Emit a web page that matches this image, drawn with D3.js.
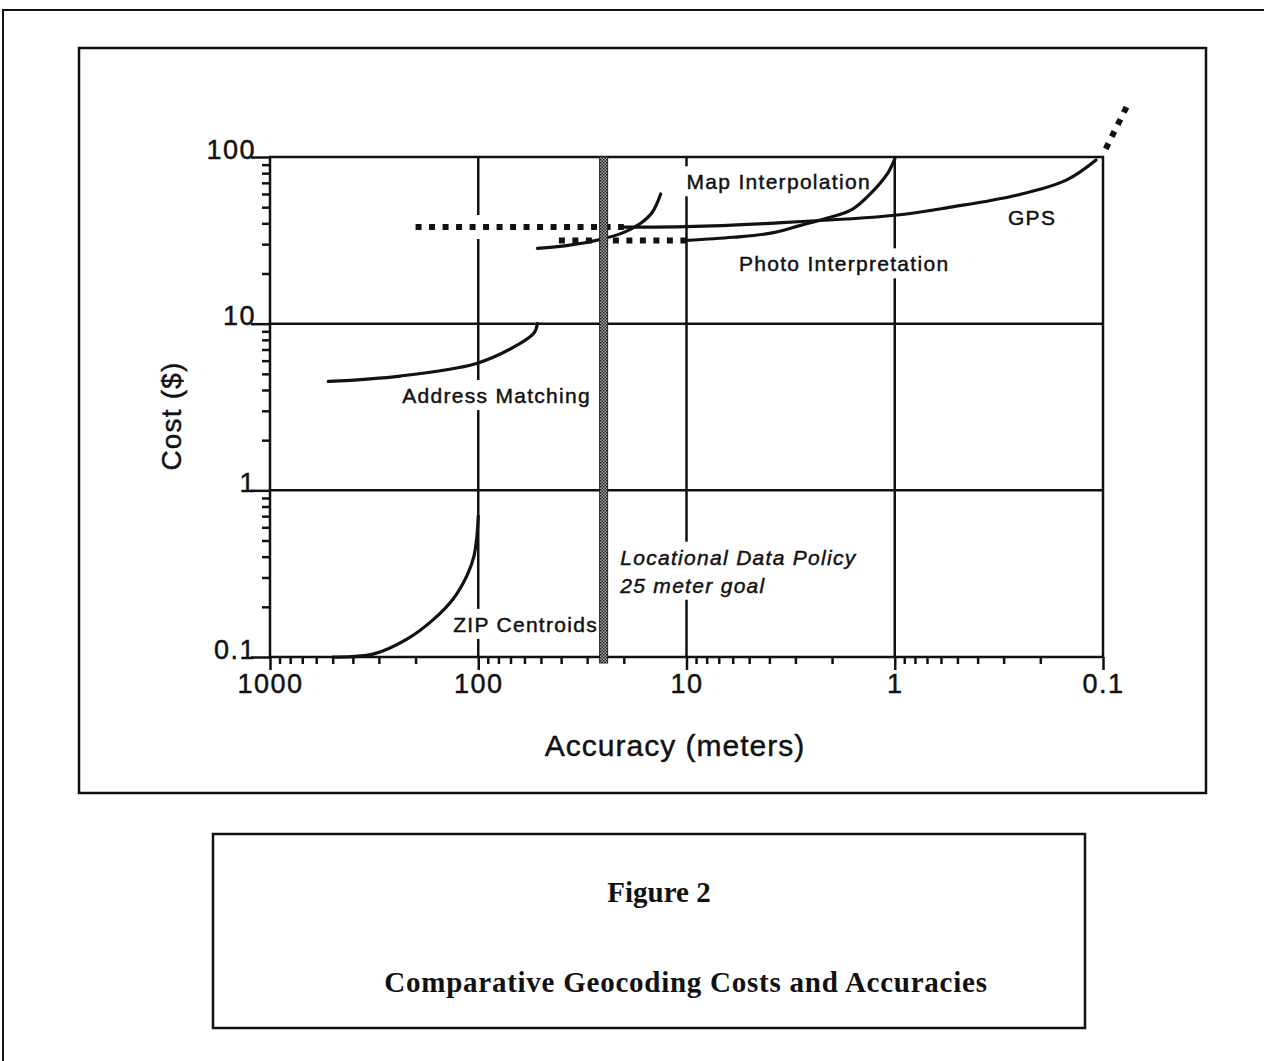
<!DOCTYPE html>
<html>
<head>
<meta charset="utf-8">
<script src="https://cdn.jsdelivr.net/npm/d3@7"></script>
<style>
  html, body { margin: 0; background: #fff; overflow: hidden; }
  svg { display: block; }
  svg text { font-family: "Liberation Sans", Arial, Helvetica, sans-serif; fill: #111; stroke: #111; stroke-width: 0.45px; }
  .caption text { font-family: "Liberation Serif", "Times New Roman", serif; font-weight: bold; stroke: none; }
</style>
</head>
<body>
<svg id="chart" width="1264" height="1061"></svg>
<script>
// ---- data (accuracy in meters, cost in $) ----
const xTicks = [1000, 100, 10, 1, 0.1];
const xTickLabels = ['1000', '100', '10', '1', '0.1'];
const yTicks = [0.1, 1, 10, 100];
const yTickLabels = ['0.1', '1', '10', '100'];
const xGridValues = [100, 10, 1];
const yGridValues = [10, 1];
const policyGoal = 25;

const zipAcc  = [500, 320, 220, 165, 132, 113, 105, 101.5, 100];
const zipCost = [0.1, 0.104, 0.128, 0.167, 0.223, 0.31, 0.40, 0.53, 0.7];

const addrAcc  = [525, 237, 103, 68, 54, 52];
const addrCost = [4.5, 4.85, 5.75, 7.2, 8.8, 10];

const mapAcc  = [52, 37, 26, 20, 16.6, 14.6, 13.3];
const mapCost = [28.3, 29.5, 32, 35.3, 40, 46.6, 60];

const gpsDotAcc  = [200, 20];
const gpsDotCost = [38, 38];
const gpsAcc  = [20, 10, 4, 1, 0.54, 0.26, 0.15, 0.108];
const gpsCost = [38, 38.2, 40, 44.7, 50, 59, 72.7, 96];
const gpsExtAcc  = [0.097, 0.077];
const gpsExtCost = [112, 200];

const photoDotAcc  = [41, 10];
const photoDotCost = [31.6, 31.6];
const photoAcc  = [10, 6, 4, 2.83, 2.1, 1.6, 1.3, 1.08, 1.0];
const photoCost = [31.6, 33.0, 34.8, 38.9, 43, 48.5, 60.7, 80, 97];

// labels anchored in data coordinates
const labels = [
  { text: 'Map Interpolation', acc: 10, cost: 64 },
  { text: 'Photo Interpretation', acc: 5.6, cost: 20.6 },
  { text: 'GPS', acc: 0.286, cost: 38.9 },
  { text: 'Address Matching', acc: 232, cost: 3.34 },
  { text: 'ZIP Centroids', acc: 132, cost: 0.1415 }
];
const policyLines = ['Locational Data Policy', '25 meter goal'];
const policyAnchor = { acc: 20.8, cost: [0.358, 0.243] };

// ---- setup ----
const svg = d3.select('#chart');
const x = d3.scaleLog().domain([1000, 0.1]).range([270, 1103]);
const y = d3.scaleLog().domain([0.1, 100]).range([657, 157]);

// page frames (outer one runs off the page to the right and bottom)
svg.append('path').attr('d', 'M3,1061 L3,10 L1264,10')
  .attr('fill', 'none').attr('stroke', '#111').attr('stroke-width', 2);
svg.append('rect').attr('x', 79).attr('y', 48).attr('width', 1127).attr('height', 745)
  .attr('fill', 'none').attr('stroke', '#111').attr('stroke-width', 2.5);

const defs = svg.append('defs');
const pat = defs.append('pattern').attr('id', 'hatch').attr('patternUnits', 'userSpaceOnUse')
  .attr('width', 3).attr('height', 3);
pat.append('rect').attr('width', 3).attr('height', 3).attr('fill', '#b8b8b8');
pat.append('rect').attr('width', 1.5).attr('height', 1.5).attr('fill', '#111');
pat.append('rect').attr('x', 1.5).attr('y', 1.5).attr('width', 1.5).attr('height', 1.5).attr('fill', '#111');

const gridG = svg.append('g');
const bgG = svg.append('g');
const curveG = svg.append('g');
const textG = svg.append('g');
const topG = svg.append('g');

// ---- grid and frame ----
gridG.selectAll('line.vg').data(xGridValues).join('line')
  .attr('x1', d => x(d)).attr('x2', d => x(d))
  .attr('y1', y(100)).attr('y2', y(0.1))
  .attr('stroke', '#111').attr('stroke-width', 2.5);
gridG.selectAll('line.hg').data(yGridValues).join('line')
  .attr('class', 'hg')
  .attr('x1', x(1000)).attr('x2', x(0.1))
  .attr('y1', d => y(d)).attr('y2', d => y(d))
  .attr('stroke', '#111').attr('stroke-width', 2.5);
gridG.append('rect')
  .attr('x', x(1000)).attr('y', y(100))
  .attr('width', x(0.1) - x(1000)).attr('height', y(0.1) - y(100))
  .attr('fill', 'none').attr('stroke', '#111').attr('stroke-width', 2.5);

// ---- axes ----
const minorX = x.ticks().filter(d => !xTicks.some(t => Math.abs(t - d) < 1e-9));
const minorY = y.ticks().filter(d => !yTicks.some(t => Math.abs(t - d) < 1e-9));

function styleAxis(g) {
  g.select('.domain').remove();
  g.selectAll('line').attr('stroke', '#111').attr('stroke-width', 2.5);
  g.selectAll('text').attr('fill', '#111')
    .style('font-family', '"Liberation Sans", Arial, sans-serif')
    .style('font-size', '27px').style('letter-spacing', '1.5px');
}

gridG.append('g').attr('transform', `translate(0,${y(0.1)})`)
  .call(d3.axisBottom(x).tickValues(minorX).tickSize(7).tickFormat(''))
  .call(styleAxis);
gridG.append('g').attr('transform', `translate(0,${y(0.1)})`)
  .call(d3.axisBottom(x).tickValues(xTicks).tickSize(13).tickPadding(4)
    .tickFormat((d, i) => xTickLabels[i]))
  .call(styleAxis);

gridG.append('g').attr('transform', `translate(${x(1000)},0)`)
  .call(d3.axisLeft(y).tickValues(minorY).tickSize(8).tickFormat(''))
  .call(styleAxis);
const yAx = gridG.append('g').attr('transform', `translate(${x(1000)},0)`)
  .call(d3.axisLeft(y).tickValues(yTicks).tickSize(19)
    .tickFormat((d, i) => yTickLabels[i]))
  .call(styleAxis);
yAx.selectAll('text').attr('x', -14).attr('dy', '0.04em');

// axis titles
textG.append('text').attr('x', 675).attr('y', 756).attr('text-anchor', 'middle')
  .style('font-size', '30px').style('letter-spacing', '1px').text('Accuracy (meters)');
textG.append('text').attr('transform', 'translate(181,416) rotate(-90)')
  .attr('text-anchor', 'middle')
  .style('font-size', '28px').style('letter-spacing', '1.2px').text('Cost ($)');

// ---- labels with white backgrounds ----
function addLabel(txt, px, py, italic) {
  const t = textG.append('text').attr('x', px).attr('y', py)
    .style('font-size', '21px').style('letter-spacing', '1.3px')
    .style('font-style', italic ? 'italic' : 'normal').text(txt);
  const b = t.node().getBBox();
  bgG.append('rect').attr('x', b.x - 2).attr('y', b.y - 4)
    .attr('width', b.width + 4).attr('height', b.height + 7).attr('fill', '#fff');
}
labels.forEach(l => addLabel(l.text, x(l.acc), y(l.cost), false));
policyLines.forEach((s, i) => addLabel(s, x(policyAnchor.acc), y(policyAnchor.cost[i]), true));

// ---- curves ----
const line = d3.line().x(d => x(d[0])).y(d => y(d[1])).curve(d3.curveCatmullRom.alpha(0.5));
const straight = d3.line().x(d => x(d[0])).y(d => y(d[1]));

// white halo behind GPS dotted segment
curveG.append('path').attr('d', straight(d3.zip(gpsDotAcc, gpsDotCost)))
  .attr('stroke', '#fff').attr('stroke-width', 24).attr('fill', 'none');

const solids = [
  d3.zip(zipAcc, zipCost),
  d3.zip(addrAcc, addrCost),
  d3.zip(mapAcc, mapCost),
  d3.zip(gpsAcc, gpsCost),
  d3.zip(photoAcc, photoCost)
];
curveG.selectAll('path.solid').data(solids).join('path')
  .attr('class', 'solid')
  .attr('d', line)
  .attr('fill', 'none').attr('stroke', '#111').attr('stroke-width', 3.2)
  .attr('stroke-linecap', 'round');

const dotted = [
  d3.zip(gpsDotAcc, gpsDotCost),
  d3.zip(photoDotAcc, photoDotCost),
  d3.zip(gpsExtAcc, gpsExtCost)
];
curveG.selectAll('path.dot').data(dotted).join('path')
  .attr('class', 'dot')
  .attr('d', straight)
  .attr('fill', 'none').attr('stroke', '#111').attr('stroke-width', 6)
  .attr('stroke-dasharray', '6,7.5');

// ---- 25 meter policy line ----
topG.append('rect')
  .attr('x', x(policyGoal) - 4).attr('y', y(100))
  .attr('width', 8).attr('height', y(0.1) - y(100) + 6)
  .attr('fill', 'url(#hatch)').attr('stroke', '#222').attr('stroke-width', 1);

// ---- caption box ----
const cap = svg.append('g').attr('class', 'caption');
cap.append('rect').attr('x', 213).attr('y', 834).attr('width', 872).attr('height', 194)
  .attr('fill', 'none').attr('stroke', '#111').attr('stroke-width', 2.5);
cap.append('text').attr('x', 659).attr('y', 902).attr('text-anchor', 'middle')
  .style('font-size', '29px').text('Figure 2');
cap.append('text').attr('x', 686).attr('y', 992).attr('text-anchor', 'middle')
  .style('font-size', '29px').style('letter-spacing', '0.75px')
  .text('Comparative Geocoding Costs and Accuracies');
</script>
</body>
</html>
